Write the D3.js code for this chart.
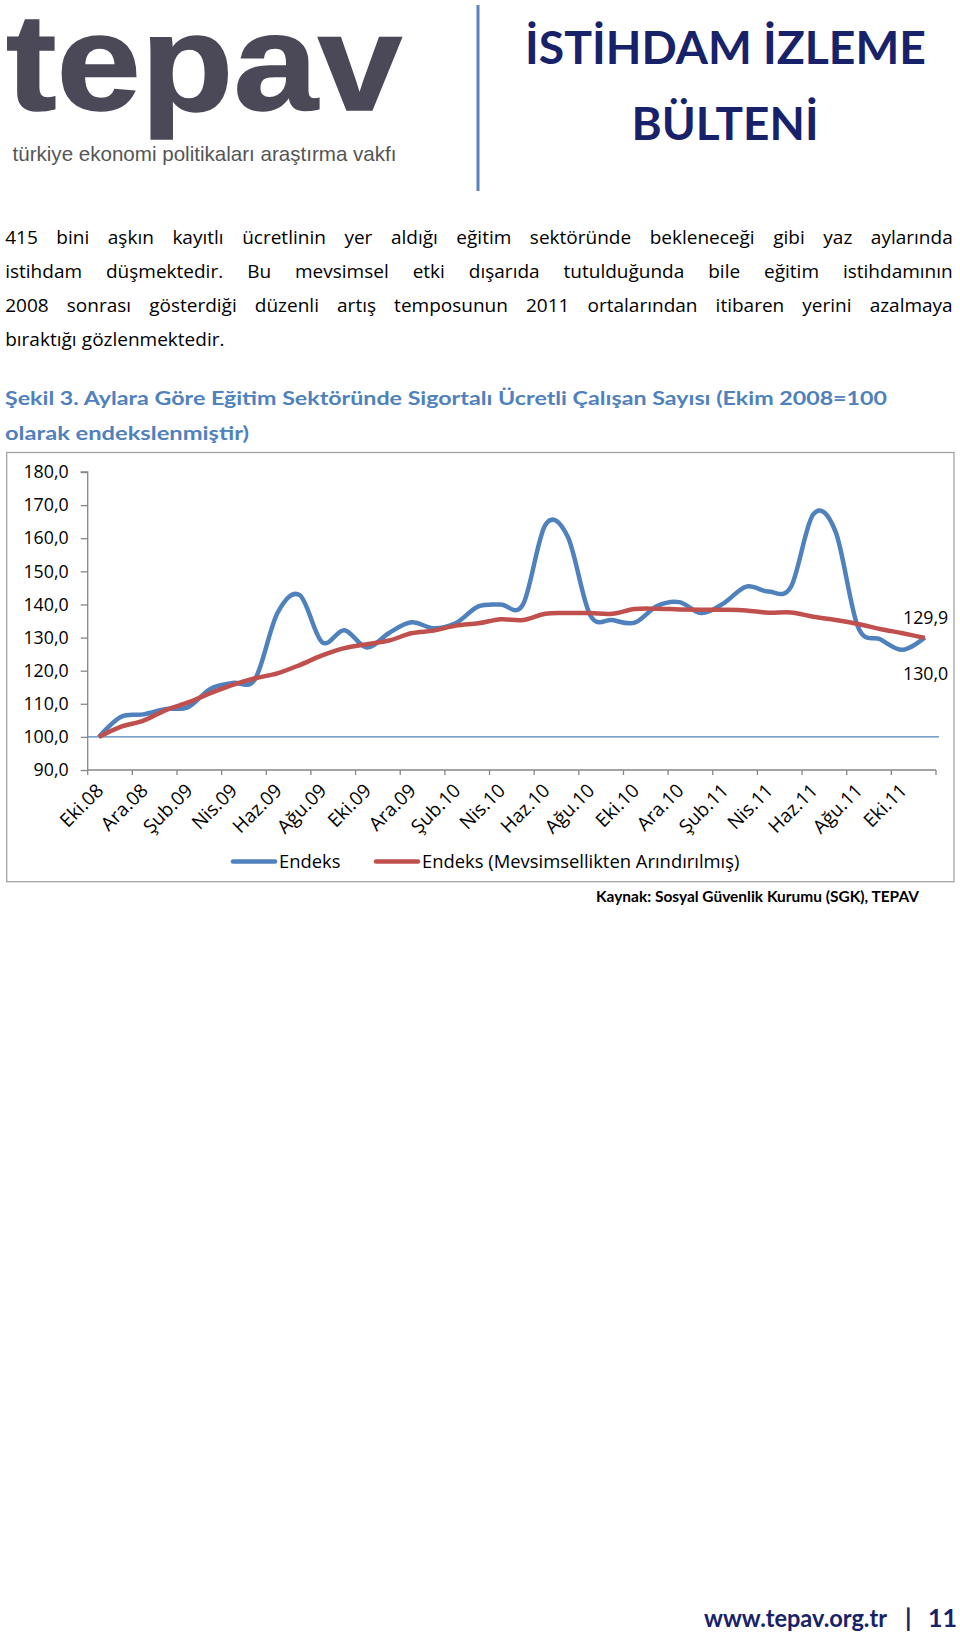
<!DOCTYPE html>
<html><head><meta charset="utf-8">
<script src="https://cdn.jsdelivr.net/npm/d3@7"></script>
<style>body{margin:0;background:#fff} svg{display:block}</style>
</head><body>
<script>
// ---------- data ----------
const months = ["Eki.08","Kas.08","Ara.08","Oca.09","Şub.09","Mar.09","Nis.09","May.09","Haz.09","Tem.09","Ağu.09","Eyl.09",
  "Eki.09","Kas.09","Ara.09","Oca.10","Şub.10","Mar.10","Nis.10","May.10","Haz.10","Tem.10","Ağu.10","Eyl.10",
  "Eki.10","Kas.10","Ara.10","Oca.11","Şub.11","Mar.11","Nis.11","May.11","Haz.11","Tem.11","Ağu.11","Eyl.11","Eki.11","Kas.11"];
const endeks = [100.0,106.1,106.8,108.4,109.0,114.5,116.3,117.5,137.4,142.8,128.6,132.2,127.0,131.4,134.6,132.8,134.4,139.4,
  140.0,140.0,164.0,160.5,136.9,135.3,134.5,139.5,140.7,137.4,140.4,145.4,143.9,145.3,167.2,162.0,133.3,129.5,126.3,130.0];
const endeksSA = [100.0,103.1,104.9,108.1,110.4,113.2,115.7,117.7,119.2,121.7,124.6,126.8,128.0,129.1,131.3,132.1,133.6,134.3,
  135.5,135.3,137.2,137.4,137.4,137.2,138.6,138.7,138.5,138.4,138.4,138.2,137.5,137.6,136.3,135.3,134.1,132.6,131.3,129.9];
const yTicks = [90,100,110,120,130,140,150,160,170,180];
const tickLabels = months.filter((m,i)=>i%2===0);
const seriesNames = ["Endeks","Endeks (Mevsimsellikten Arındırılmış)"];
const baseValue = 100;
const paragraph = [
  "415 bini aşkın kayıtlı ücretlinin yer aldığı eğitim sektöründe bekleneceği gibi yaz aylarında",
  "istihdam düşmektedir. Bu mevsimsel etki dışarıda tutulduğunda bile eğitim istihdamının",
  "2008 sonrası gösterdiği düzenli artış temposunun 2011 ortalarından itibaren yerini azalmaya",
  "bıraktığı gözlenmektedir."];
const figTitle = ["Şekil 3. Aylara Göre Eğitim Sektöründe Sigortalı Ücretli Çalışan Sayısı (Ekim 2008=100","olarak endekslenmiştir)"];

// ---------- page ----------
const W = 960, H = 1639;
const svg = d3.select("body").append("svg").attr("width", W).attr("height", H);
const navy = "#17226a", blue = "#4f81bd", red = "#c0504d";
const bodyFont = "'Open Sans', sans-serif";

// logo
svg.append("text").attr("x", 6).attr("y", 110).text("tepav")
  .attr("font-family","'Liberation Sans', Arial, sans-serif").attr("font-weight","bold")
  .attr("font-size",137).attr("fill","#4b4858").attr("stroke","#4b4858").attr("stroke-width",1.5)
  .attr("textLength",396).attr("lengthAdjust","spacingAndGlyphs");
svg.append("text").attr("x", 12.5).attr("y", 161).text("türkiye ekonomi politikaları araştırma vakfı")
  .attr("font-family","'Liberation Sans', Arial, sans-serif").attr("font-size",21).attr("fill","#555")
  .attr("textLength",384).attr("lengthAdjust","spacingAndGlyphs");
svg.append("line").attr("x1",478).attr("x2",478).attr("y1",5).attr("y2",191).attr("stroke","#5b82bb").attr("stroke-width",3);
svg.append("text").attr("x",725.5).attr("y",63.5).attr("text-anchor","middle").text("İSTİHDAM İZLEME")
  .attr("font-family","Lato, sans-serif").attr("font-weight","bold").attr("font-size",46).attr("fill",navy)
  .attr("textLength",401).attr("lengthAdjust","spacingAndGlyphs");
svg.append("text").attr("x",725).attr("y",140).attr("text-anchor","middle").text("BÜLTENİ")
  .attr("font-family","Lato, sans-serif").attr("font-weight","bold").attr("font-size",46).attr("fill",navy)
  .attr("textLength",187).attr("lengthAdjust","spacingAndGlyphs");

// paragraph (justified)
const pLeft = 5.2, pRight = 952.7, pBase = [243.5,277.7,311.9,346];
(function(){
  const probe = svg.append("text").attr("font-family",bodyFont).attr("font-size",20).text(paragraph[2].replace(/ /g,""));
  const w20 = probe.node().getComputedTextLength(); probe.remove();
  const gaps = paragraph[2].split(" ").length-1;
  window.pSize = Math.min(19, 20*(pRight-pLeft-gaps*5.2)/w20);
})();
paragraph.forEach((line,li)=>{
  const t = svg.append("text").attr("y",pBase[li]).attr("font-family",bodyFont)
    .attr("font-size",pSize).attr("fill","#000");
  const words = line.split(" ");
  const spans = words.map(w=>t.append("tspan").text(w));
  const widths = spans.map(s=>s.node().getComputedTextLength());
  const total = d3.sum(widths);
  const last = li === paragraph.length-1;
  const gap = last ? 5.2 : (pRight - pLeft - total)/(words.length-1);
  let x = pLeft;
  spans.forEach((s,i)=>{ s.attr("x",x); x += widths[i] + gap; });
});

// figure title
svg.append("text").attr("x",5).attr("y",405).text(figTitle[0])
  .attr("font-family","Lato, sans-serif").attr("font-weight","bold").attr("font-size",19).attr("fill",blue)
  .attr("textLength",882).attr("lengthAdjust","spacingAndGlyphs");
svg.append("text").attr("x",5).attr("y",439.5).text(figTitle[1])
  .attr("font-family","Lato, sans-serif").attr("font-weight","bold").attr("font-size",19).attr("fill",blue)
  .attr("textLength",244).attr("lengthAdjust","spacingAndGlyphs");

// ---------- chart ----------
svg.append("rect").attr("x",6.7).attr("y",452.5).attr("width",947.3).attr("height",429.2)
  .attr("fill","#fff").attr("stroke","#a3a3a3").attr("stroke-width",1.3);

const x0 = 87.7, x1 = 936;
const xBand = d3.scaleBand().domain(months).range([x0,x1]).padding(0);
const xc = d => xBand(d) + xBand.bandwidth()/2;
const y = d3.scaleLinear().domain([90,180]).range([770,472]);
const fmt = v => d3.format(".1f")(v).replace(".",",");

// y axis
const yAxis = svg.append("g").attr("transform",`translate(${x0},0)`)
  .call(d3.axisLeft(y).tickValues(yTicks).tickFormat(fmt).tickSize(7).tickPadding(12));
yAxis.selectAll("path,line").attr("stroke","#868686").attr("stroke-width",1.3);
yAxis.select(".domain").attr("d",`M-7,${y(180)}H0V${y(90)}`);
yAxis.selectAll("text").attr("font-family",bodyFont).attr("font-size",17.8).attr("fill","#000");

// x axis line + ticks at every 2nd category boundary
const xg = svg.append("g");
xg.append("line").attr("x1",x0).attr("x2",x1).attr("y1",y(90)).attr("y2",y(90)).attr("stroke","#868686").attr("stroke-width",1.3);
const boundaries = months.filter((m,i)=>i%2===0).map(m=>xBand(m)).concat([x1]);
xg.selectAll("line.tk").data(boundaries).join("line").attr("class","tk")
  .attr("x1",d=>d).attr("x2",d=>d).attr("y1",y(90)).attr("y2",y(90)+5).attr("stroke","#868686").attr("stroke-width",1.3);
xg.selectAll("text").data(tickLabels).join("text")
  .attr("transform",d=>`translate(${xc(d)+1},${y(90)+17}) rotate(-45)`)
  .attr("text-anchor","end").attr("dy","0.35em").text(d=>d)
  .attr("font-family",bodyFont).attr("font-size",19).attr("fill","#000");

// base line at 100
svg.append("line").attr("x1",x0).attr("x2",939).attr("y1",y(baseValue)).attr("y2",y(baseValue))
  .attr("stroke",blue).attr("stroke-width",1.4);

// series
const line = d3.line().x((d,i)=>xc(months[i])).y(d=>y(d)).curve(d3.curveCardinal.tension(0));
svg.append("path").attr("d",line(endeks)).attr("fill","none").attr("stroke",blue).attr("stroke-width",4.5).attr("stroke-linejoin","round");
svg.append("path").attr("d",line(endeksSA)).attr("fill","none").attr("stroke",red).attr("stroke-width",4.5).attr("stroke-linejoin","round");

// end labels
svg.append("text").attr("x",903).attr("y",624).text(fmt(endeksSA[endeksSA.length-1]))
  .attr("font-family",bodyFont).attr("font-size",17.8).attr("fill","#000");
svg.append("text").attr("x",903).attr("y",680).text(fmt(endeks[endeks.length-1]))
  .attr("font-family",bodyFont).attr("font-size",17.8).attr("fill","#000");

// legend
const legItems = [{name:seriesNames[0],color:blue,x:233},{name:seriesNames[1],color:red,x:376}];
const leg = svg.append("g");
legItems.forEach(it=>{
  leg.append("line").attr("x1",it.x).attr("x2",it.x+42).attr("y1",861.5).attr("y2",861.5)
    .attr("stroke",it.color).attr("stroke-width",4.5).attr("stroke-linecap","round");
  leg.append("text").attr("x",it.x+46).attr("y",867.5).text(it.name)
    .attr("font-family",bodyFont).attr("font-size",18.4).attr("fill","#000");
});

// source
svg.append("text").attr("x",596).attr("y",902).text("Kaynak: Sosyal Güvenlik Kurumu (SGK), TEPAV")
  .attr("font-family","Lato, sans-serif").attr("font-weight","bold").attr("font-size",15).attr("fill","#000")
  .attr("textLength",323).attr("lengthAdjust","spacingAndGlyphs");

// footer (one text, three positioned parts)
const foot = svg.append("text").attr("y",1627).attr("font-family","Lato, sans-serif").attr("font-weight","bold")
  .attr("font-size",25).attr("fill",navy);
foot.append("tspan").attr("x",704).text("www.tepav.org.tr").attr("textLength",183).attr("lengthAdjust","spacingAndGlyphs");
foot.append("tspan").attr("x",905).text("|");
foot.append("tspan").attr("x",928).text("11");
</script>
</body></html>
